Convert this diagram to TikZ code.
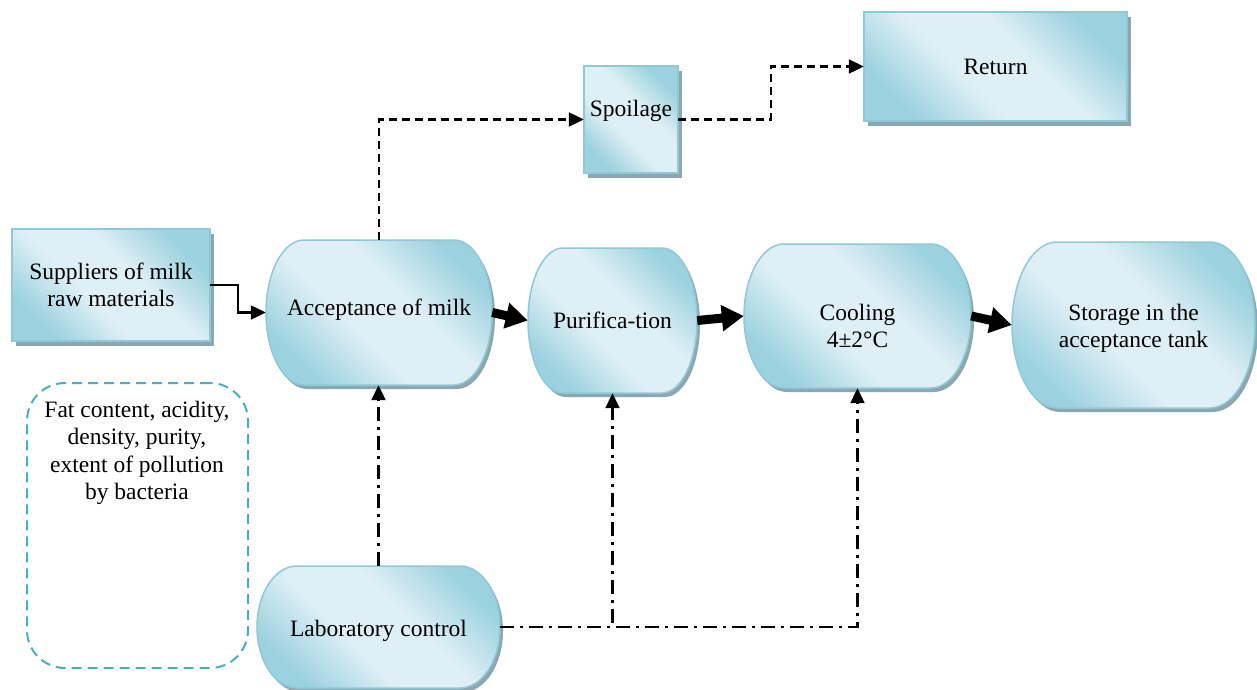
\documentclass[tikz,border=0pt]{standalone}
\usepackage{fontspec}
\setmainfont{Liberation Serif}
\usetikzlibrary{arrows.meta,calc}
\definecolor{dk}{HTML}{9CD1DF}
\definecolor{lt}{HTML}{DEEFF5}
\definecolor{bd}{HTML}{8CCADA}
\definecolor{shd}{HTML}{8FA6AE}
\definecolor{dashblue}{HTML}{4BACC6}
\pgfdeclarehorizontalshading{diagshade}{100bp}{color(0bp)=(dk); color(25bp)=(dk); color(42bp)=(lt); color(58bp)=(lt); color(75bp)=(dk); color(100bp)=(dk)}
\tikzset{
  txt/.style={align=center,font=\fontsize{23.5}{27.3}\selectfont,inner sep=0pt},
  fillshade/.style={shading=diagshade,shading angle=45,draw=bd,line width=1.5pt},
  shadowfill/.style={fill=shd,draw=none},
  thin arrow/.style={line width=2.2pt,-{Triangle[length=15pt,width=14pt]}},
  thick arrow/.style={line width=9pt,-{Triangle[length=22pt,width=25pt]}},
  dash arrow/.style={thin arrow,dash pattern=on 8pt off 5pt},
  dashdot arrow/.style={thin arrow,dash pattern=on 14pt off 6pt on 3pt off 6pt},
}
% terminal-like shape: name, cx, cy, w, h, rx, text
\newcommand\termshape[8]{%
  \pgfmathsetmacro\xa{#2-#4/2}\pgfmathsetmacro\xb{#2+#4/2}%
  \pgfmathsetmacro\ya{#3-#5/2}\pgfmathsetmacro\yb{#3+#5/2}%
  \pgfmathsetmacro\hh{#5/2}%
  \foreach \sx/\sy/\st in {3/4/shadowfill,0/0/fillshade}{%
    \path[\st,shift={(\sx,\sy)}] (\xa+#6,\ya) -- (\xb-#6,\ya)
      arc[start angle=-90,end angle=90,x radius=#6,y radius=\hh]
      -- (\xa+#6,\yb)
      arc[start angle=90,end angle=270,x radius=#6,y radius=\hh] -- cycle;
  }%
  \node[inner sep=0pt,minimum width=#4,minimum height=#5] (#1) at (#2,#3) {};
  \node[txt] (#1-t) at ([yshift=#8]#1.center) {#7};
}
\newcommand\rectshape[7]{% name, cx, cy, w, h, text, text shift
  \pgfmathsetmacro\xa{#2-#4/2}\pgfmathsetmacro\xb{#2+#4/2}%
  \pgfmathsetmacro\ya{#3-#5/2}\pgfmathsetmacro\yb{#3+#5/2}%
  \path[shadowfill] (\xa+4,\ya+5) rectangle (\xb+4,\yb+5);
  \path[fillshade] (\xa,\ya) rectangle (\xb,\yb);
  \node[inner sep=0pt,minimum width=#4,minimum height=#5] (#1) at (#2,#3) {};
  \node[txt] (#1-t) at ([yshift=#7]#1.center) {#6};
}
\begin{document}
\begin{tikzpicture}[x=1pt,y=-1pt]
\useasboundingbox (0,0) rectangle (1257,690);
\fill[white] (0,0) rectangle (1257,690);

\rectshape{sup}{111}{285}{198}{112}{Suppliers of milk\\raw materials}{0pt}
\rectshape{spoil}{631}{119.5}{94}{107}{Spoilage}{9pt}
\rectshape{ret}{995.5}{66.5}{263}{109}{Return}{0pt}

\termshape{acc}{379}{312.5}{226}{145}{38}{Acceptance of milk}{3pt}
\termshape{pur}{612.5}{320.5}{169}{145}{35}{Purifica-tion}{0pt}
\termshape{cool}{857.5}{316}{227}{144}{40}{Cooling\\4±2°C}{-10pt}
\termshape{stor}{1133.5}{325}{243}{166}{45}{Storage in the\\acceptance tank}{-3pt}
\termshape{lab}{378.5}{627}{243}{122}{40}{Laboratory control}{-4pt}

\node[draw=dashblue,line width=2pt,dash pattern=on 10pt off 6pt,rounded corners=38pt,
      minimum width=221,minimum height=285,inner sep=0pt] (note) at (137.5,525.5) {};
\node[txt,anchor=north] (notetxt) at (137,401) {Fat content, acidity,\\density, purity,\\extent of pollution\\by bacteria};

\coordinate (sbend) at (238,0);
\coordinate (rbend) at (771,0);

\draw[thin arrow] (sup.east) -- (sup.east -| sbend) |- (acc.west);
\draw[dash arrow] (acc.north) |- (spoil.west);
\draw[dash arrow] (spoil.east) -- (spoil.east -| rbend) |- (ret.west);

\draw[thick arrow] (acc.east) -- (pur.west);
\draw[thick arrow] (pur.east) -- (cool.west);
\draw[thick arrow] (cool.east) -- (stor.west);

\draw[dashdot arrow] (lab.north) -- (lab.north |- acc.south);
\draw[dashdot arrow] (lab.east) -| (pur.south);
\draw[dashdot arrow] (lab.east) -| (cool.south);
\end{tikzpicture}
\end{document}
